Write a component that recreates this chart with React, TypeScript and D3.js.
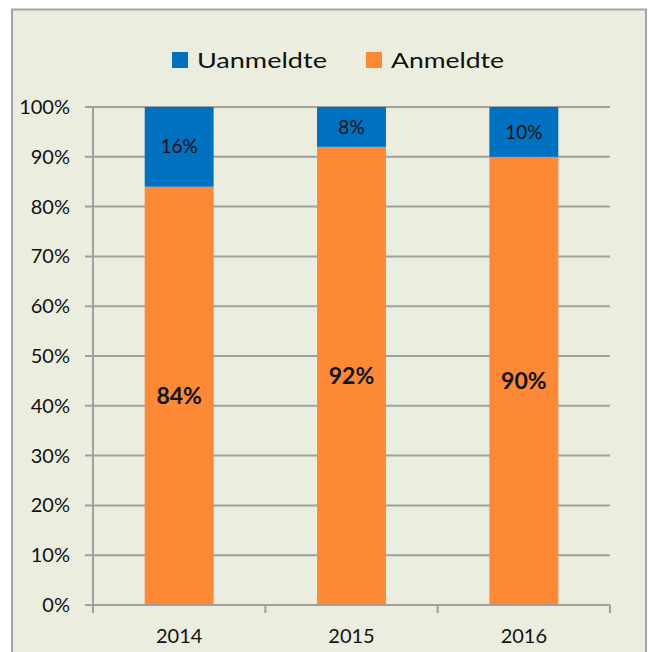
import React from 'react';
import * as d3 from 'd3';

const years = ['2014', '2015', '2016'];
const uanmeldte = [16, 8, 10];
const anmeldte = [84, 92, 90];
const yTicks = [0, 10, 20, 30, 40, 50, 60, 70, 80, 90, 100];

const BLUE = '#0070c0';
const ORANGE = '#fd8937';
const BG = '#ebeedf';
const GRID = '#a0a0a0';
const FONT = 'Lato, "Open Sans", sans-serif';

export default function App() {
  const W = 649, H = 652;
  const left = 93, right = 610, top = 107, bottom = 605;

  const x = d3.scaleBand<string>().domain(years).range([left, right]).paddingInner(0.6).paddingOuter(0.3);
  const y = d3.scaleLinear().domain([0, 100]).range([bottom, top]);
  const band = d3.scaleBand<string>().domain(years).range([left, right]);

  const stackData = years.map((yr, i) => ({ year: yr, anm: anmeldte[i], uan: uanmeldte[i] }));
  const series = d3.stack<any>().keys(['anm', 'uan'])(stackData);

  return (
    <svg width={W} height={H} style={{ position: 'absolute', left: 0, top: 0 }}>
      <rect x={0} y={0} width={W} height={H} fill="#fff" />
      <rect x={12} y={9.5} width={634} height={660} fill={BG} stroke="#a6a6a6" strokeWidth={2} />

      {/* legend */}
      <g fontFamily={FONT} fontSize={22} fill="#111">
        <rect x={172} y={52} width={16} height={16} fill={BLUE} />
        <text x={197} y={68} textLength={130} lengthAdjust="spacingAndGlyphs">Uanmeldte</text>
        <rect x={366} y={52} width={16} height={16} fill={ORANGE} />
        <text x={391} y={68} textLength={113} lengthAdjust="spacingAndGlyphs">Anmeldte</text>
      </g>

      {/* gridlines */}
      {yTicks.map(t => (
        <line key={t} x1={85} x2={right} y1={y(t)} y2={y(t)} stroke={GRID} strokeWidth={2} />
      ))}
      {yTicks.map(t => (
        <text key={'l' + t} x={70} y={y(t)} dy="0.35em" textAnchor="end" fontFamily={FONT} fontSize={20} fill="#111">{t}%</text>
      ))}

      {/* bars */}
      {series.map((s, si) => (
        <g key={s.key} fill={si === 0 ? ORANGE : BLUE}>
          {s.map((d: any) => (
            <rect key={d.data.year} x={x(d.data.year)} width={x.bandwidth()} y={y(d[1])} height={y(d[0]) - y(d[1])} />
          ))}
        </g>
      ))}

      {/* data labels */}
      {series.map((s, si) => (
        <g key={'t' + s.key}>
          {s.map((d: any) => (
            <text key={d.data.year}
              x={(x(d.data.year) as number) + x.bandwidth() / 2}
              y={y((d[0] + d[1]) / 2)} dy="0.35em" textAnchor="middle"
              fontFamily={FONT} fontSize={si === 0 ? 23 : 19} fontWeight={si === 0 ? 'bold' : 'normal'} fill="#111">
              {Math.round(d[1] - d[0])}%
            </text>
          ))}
        </g>
      ))}

      {/* axes */}
      <line x1={left} x2={left} y1={top} y2={bottom} stroke={GRID} strokeWidth={2} />
      <line x1={85} x2={right} y1={bottom} y2={bottom} stroke={GRID} strokeWidth={2} />
      {[...years.map(yr => band(yr) as number), right].map((px, i) => (
        <line key={'tk' + i} x1={px} x2={px} y1={bottom} y2={bottom + 8} stroke={GRID} strokeWidth={2} />
      ))}
      {years.map(yr => (
        <text key={'x' + yr} x={(band(yr) as number) + band.bandwidth() / 2} y={636} dy="0.35em" textAnchor="middle" fontFamily={FONT} fontSize={20} fill="#111">{yr}</text>
      ))}
    </svg>
  );
}
